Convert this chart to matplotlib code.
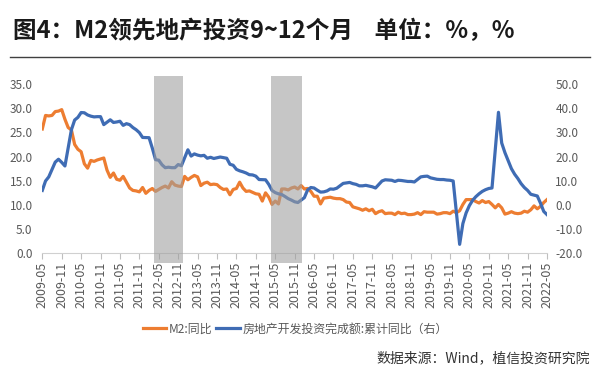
import numpy as np
import pandas as pd
import matplotlib
matplotlib.use("Agg")
import matplotlib.pyplot as plt

plt.rcParams['font.family'] = ['Noto Sans CJK SC', 'DejaVu Sans']

# monthly, 2009-05 .. 2022-05
months = pd.date_range('2009-05-01', '2022-05-01', freq='MS')

m2_yoy = [
    25.7, 28.5, 28.4, 28.5, 29.3, 29.4, 29.7, 27.7,                          # 2009
    26.0, 25.5, 22.5, 21.5, 21.0, 18.5, 17.6, 19.2, 19.0, 19.3, 19.5, 19.7,  # 2010
    17.2, 15.7, 16.6, 15.3, 15.1, 15.9, 14.7, 13.5, 13.0, 12.9, 12.7, 13.6,  # 2011
    12.4, 13.0, 13.4, 12.8, 13.2, 13.6, 13.9, 13.5, 14.8, 14.1, 13.9, 13.8,  # 2012
    15.9, 15.2, 15.7, 16.1, 15.8, 14.0, 14.5, 14.7, 14.2, 14.3, 14.2, 13.6,  # 2013
    13.2, 13.3, 12.1, 13.2, 13.4, 14.7, 13.5, 12.8, 12.9, 12.6, 12.3, 12.2,  # 2014
    10.8, 12.5, 11.6, 10.1, 10.8, 10.2, 13.3, 13.3, 13.1, 13.5, 13.7, 13.3,  # 2015
    14.0, 13.3, 13.4, 12.8, 11.8, 11.8, 10.2, 11.4, 11.5, 11.6, 11.4, 11.3,  # 2016
    11.3, 11.1, 10.6, 10.5, 9.6, 9.4, 9.2, 8.9, 9.2, 8.8, 9.1, 8.2,          # 2017
    8.6, 8.8, 8.2, 8.3, 8.3, 8.0, 8.5, 8.2, 8.3, 8.0, 8.0, 8.1,              # 2018
    8.4, 8.0, 8.6, 8.5, 8.5, 8.5, 8.1, 8.2, 8.4, 8.4, 8.2, 8.7,              # 2019
    8.4, 8.8, 10.1, 11.1, 11.1, 11.1, 10.7, 10.4, 10.9, 10.5, 10.7, 10.1,    # 2020
    9.4, 10.1, 9.4, 8.1, 8.3, 8.6, 8.3, 8.2, 8.3, 8.7, 8.5, 9.0,             # 2021
    9.8, 9.2, 9.7, 10.5, 11.1,                                               # 2022
]

# cumulative yoy, no January release
re_invest = [
    6.0, 9.9, 11.6, 14.7, 17.7, 18.9, 17.6, 16.1,
    None, 31.1, 35.1, 36.2, 38.2, 38.1, 37.2, 36.7, 36.4, 36.5, 36.5, 33.2,
    None, 35.2, 34.1, 34.3, 34.6, 32.9, 33.6, 33.2, 32.0, 31.1, 29.9, 27.9,
    None, 27.8, 23.5, 18.7, 18.5, 16.6, 15.4, 15.6, 15.4, 15.4, 16.7, 16.2,
    None, 22.8, 20.2, 21.1, 20.6, 20.3, 20.5, 19.3, 19.7, 19.2, 19.5, 19.8,
    None, 19.3, 16.8, 16.4, 14.7, 14.1, 13.7, 13.2, 12.5, 12.4, 11.9, 10.5,
    None, 10.4, 8.5, 6.0, 5.1, 4.6, 4.3, 3.5, 2.6, 2.0, 1.3, 1.0,
    None, 3.0, 6.2, 7.2, 7.0, 6.1, 5.3, 5.4, 5.8, 6.6, 6.5, 6.9,
    None, 8.9, 9.1, 9.3, 8.8, 8.5, 7.9, 7.9, 8.1, 7.8, 7.5, 7.0,
    None, 9.9, 10.4, 10.3, 10.2, 9.7, 10.2, 10.1, 9.9, 9.7, 9.7, 9.5,
    None, 11.6, 11.8, 11.9, 11.2, 10.9, 10.6, 10.5, 10.5, 10.3, 10.2, 9.9,
    None, -16.3, -7.7, -3.3, -0.3, 1.9, 3.4, 4.6, 5.6, 6.3, 6.8, 7.0,
    None, 38.3, 25.6, 21.6, 18.3, 15.0, 12.7, 10.9, 8.8, 7.2, 6.0, 4.4,
    None, 3.7, 0.7, -2.7, -4.0,
]

# shaded periods, in months since 2009-05
shade_start = [34.5, 70.7]
shade_end = [43.6, 80.4]

x = np.arange(len(months))
re_arr = np.array([np.nan if v is None else v for v in re_invest], dtype=float)
ok = ~np.isnan(re_arr)

fig = plt.figure(figsize=(6, 3.83), dpi=100)
ax = fig.add_axes([42.3 / 600, 129.7 / 383, 504.7 / 600, 169.3 / 383])
ax2 = ax.twinx()

l1, = ax.plot(x, m2_yoy, color='#ED7D31', lw=2.3, solid_joinstyle='round')
l2, = ax2.plot(x[ok], re_arr[ok], color='#3F6CB4', lw=2.3, solid_joinstyle='round')

for s, e in zip(shade_start, shade_end):
    ax2.axvspan(s, e, ymin=-0.06, ymax=1.047, color='#9E9E9E', alpha=0.58,
                lw=0, zorder=5, clip_on=False)

ax.set_xlim(0, len(months) - 1)
ax.set_ylim(0, 35)
ax2.set_ylim(-20, 50)
ax.set_yticks(np.arange(0, 35.1, 5))
ax2.set_yticks(np.arange(-20, 50.1, 10))
ax.set_yticklabels([f'{v:.1f}' for v in np.arange(0, 35.1, 5)])
ax2.set_yticklabels([f'{v:.1f}' for v in np.arange(-20, 50.1, 10)])

tick_pos = x[::6]
ax.set_xticks(tick_pos)
ax.set_xticklabels([months[i].strftime('%Y-%m') for i in tick_pos], rotation=90)

for a in (ax, ax2):
    for sp in a.spines.values():
        sp.set_visible(False)
ax.spines['bottom'].set_visible(True)
ax.spines['bottom'].set_color('#D0D0D0')
ax.tick_params(axis='x', length=4, color='#BFBFBF', labelsize=9,
               labelcolor='#595959', pad=2)
ax.tick_params(axis='y', length=0, labelsize=8.5, labelcolor='#595959', pad=7)
ax2.tick_params(axis='y', length=0, labelsize=8.5, labelcolor='#595959', pad=6)

fig.legend([l1, l2], ['M2:同比', '房地产开发投资完成额:累计同比（右）'],
           loc='center', bbox_to_anchor=(295 / 600, 1 - 329 / 383), ncol=2,
           frameon=False, fontsize=8.6, labelcolor='#595959',
           handlelength=2.0, handletextpad=0.2, columnspacing=0.3)

fig.text(13 / 600, 1 - 31 / 383, '图4：M2领先地产投资9~12个月    单位：%，%',
         fontsize=17, fontweight='bold', color='#1A1A1A', va='center', ha='left')
fig.add_artist(plt.Line2D([10 / 600, 590 / 600], [1 - 57 / 383, 1 - 57 / 383],
                          color='#404040', lw=1))
fig.text(590 / 600, 1 - 358 / 383, '数据来源：Wind，植信投资研究院',
         fontsize=10, color='#333333', va='center', ha='right')

fig.savefig('out.png', dpi=100)
